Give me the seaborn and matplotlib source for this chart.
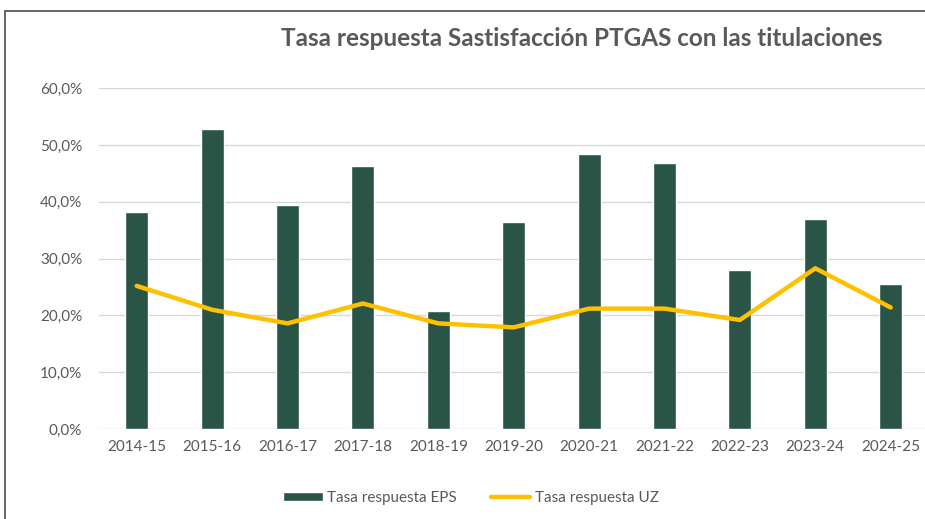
import numpy as np
import pandas as pd
import matplotlib
matplotlib.use("Agg")
import matplotlib.pyplot as plt
from matplotlib.ticker import FuncFormatter, MultipleLocator
from matplotlib.lines import Line2D
import seaborn as sns

cursos = ["2014-15", "2015-16", "2016-17", "2017-18", "2018-19", "2019-20",
          "2020-21", "2021-22", "2022-23", "2023-24", "2024-25"]
tasa_eps = [38.2, 52.9, 39.4, 46.3, 20.7, 36.5, 48.4, 46.9, 28.0, 37.0, 25.6]
tasa_uz = [25.2, 21.0, 18.6, 22.1, 18.6, 17.9, 21.2, 21.2, 19.2, 28.3, 21.4]

title = "Tasa respuesta Sastisfacción PTGAS con las titulaciones"
label_eps = "Tasa respuesta EPS"
label_uz = "Tasa respuesta UZ"

sns.set_theme(style="white")
plt.rcParams['font.family'] = ['Lato', 'DejaVu Sans']

W, H = 925, 519
fig = plt.figure(figsize=(W / 100, H / 100), dpi=100)
left, right = 99, 925
bottom, top = 429, 88.3
ax = fig.add_axes([left / W, (H - bottom) / H, (right - left) / W, (bottom - top) / H])

df = pd.DataFrame({"curso": cursos, "eps": tasa_eps})
green = "#2A5546"
yellow = "#FFC000"
sns.barplot(data=df, x="curso", y="eps", color=green, width=0.305, ax=ax,
            saturation=1, label=label_eps, zorder=3)
sns.lineplot(x=np.arange(len(cursos)), y=tasa_uz, color=yellow, linewidth=3.2,
             ax=ax, label=label_uz, zorder=4)

ax.set_xlim(-0.5, len(cursos) - 0.5 - 0.045)
ax.set_ylim(0, 60)
ax.yaxis.set_major_locator(MultipleLocator(10))
ax.yaxis.set_major_formatter(FuncFormatter(lambda v, p: f"{v:.1f}".replace('.', ',') + '%'))
ax.grid(axis='y', color='#D9D9D9', linewidth=1, zorder=0)
ax.set_axisbelow(True)
for s in ax.spines.values():
    s.set_visible(False)
ax.set_xlabel("")
ax.set_ylabel("")
ax.tick_params(axis='y', length=0, pad=12, labelsize=11, labelcolor='#595959')
ax.tick_params(axis='x', length=0, pad=8, labelsize=11, labelcolor='#595959')

handles, labels = ax.get_legend_handles_labels()
order = [labels.index(label_eps), labels.index(label_uz)]
leg = ax.legend([handles[i] for i in order], [labels[i] for i in order],
                loc='center', bbox_to_anchor=(471 / W, (H - 498) / H),
                bbox_transform=fig.transFigure, ncol=2, frameon=False,
                fontsize=11, handlelength=2.6, handleheight=0.6, columnspacing=2.2,
                handletextpad=0.3)
for t in leg.get_texts():
    t.set_color('#595959')

fig.text(582 / W, (H - 38) / H, title, ha='center', va='center',
         fontsize=17.5, fontweight='bold', color='#595959')

fig.add_artist(Line2D([5 / W, 5 / W], [0, (H - 11) / H], transform=fig.transFigure,
                      color='#595959', linewidth=1.3))
fig.add_artist(Line2D([5 / W, 1], [(H - 11) / H, (H - 11) / H], transform=fig.transFigure,
                      color='#595959', linewidth=1.3))

fig.savefig("out.png", dpi=100, facecolor='white')
